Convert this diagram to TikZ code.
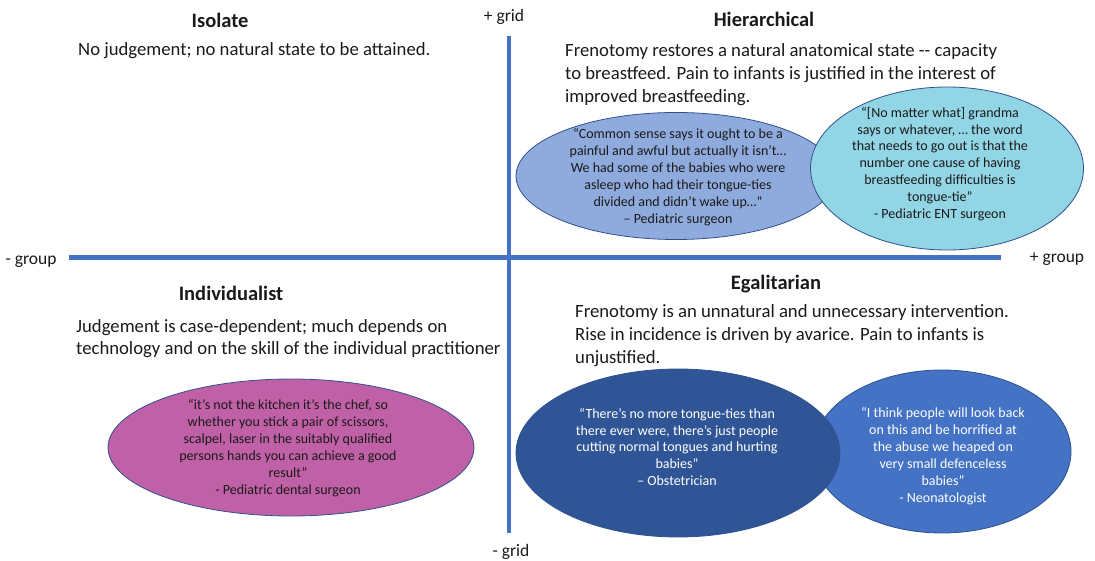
\documentclass[tikz,border=0pt]{standalone}
\usepackage{fontspec}
\setmainfont{Carlito}
\usetikzlibrary{shapes.geometric}
\definecolor{axisblue}{HTML}{4472C4}
\definecolor{ovalborder}{HTML}{2F528F}
\definecolor{surgfill}{HTML}{8FAADC}
\definecolor{entfill}{HTML}{92D5E5}
\definecolor{pinkfill}{HTML}{C060A6}
\definecolor{obstfill}{HTML}{2F5597}
\definecolor{neofill}{HTML}{4472C4}
\definecolor{txt}{HTML}{1A1A1A}
\tikzset{
  quote/.style={font=\fontsize{14}{16.9}\selectfont, align=center, inner sep=0, text=txt},
  bodytext/.style={font=\fontsize{18.7}{23}\selectfont, align=left, inner sep=0, anchor=base west, text=txt},
  headtext/.style={font=\bfseries\fontsize{20.5}{24}\selectfont, inner sep=0, anchor=base, text=txt},
  axislabel/.style={font=\fontsize{17.5}{20}\selectfont, inner sep=0, anchor=base, text=txt},
  oval/.style={ellipse, draw=ovalborder, line width=0.8pt, inner sep=0},
  axisline/.style={draw=axisblue, line width=4.5pt}
}
\begin{document}
\begin{tikzpicture}[x=1pt,y=-1pt]
\useasboundingbox (0,0) rectangle (1095,561);

% axes
\coordinate (vtop) at (509,36);
\coordinate (vbot) at (509,533);
\coordinate (hleft) at (69,257.5);
\coordinate (hright) at (1001,257.5);
\draw[axisline] (vtop) -- (vbot);
\draw[axisline] (hleft) -- (hright);

\node[axislabel] (pgrid) at (504,22) {+ grid};
\node[axislabel] (mgrid) at (511,556) {- grid};
\node[axislabel] (mgroup) at (31,265) {- group};
\node[axislabel] (pgroup) at (1057,263) {+ group};

% headings
\node[headtext] (isolate) at (220,28) {Isolate};
\node[headtext] (hier) at (764,27) {Hierarchical};
\node[headtext] (indiv) at (231,301) {Individualist};
\node[headtext] (egal) at (776,290) {Egalitarian};

% body texts (base anchor = baseline of the last line)
\node[bodytext] (isobody) at (78,56) {No judgement; no natural state to be attained.};
\node[bodytext] (hierbody) at (565,103) {Frenotomy restores a natural anatomical state -{}- capacity\\to breastfeed. Pain to infants is justified in the interest of\\improved breastfeeding.};
\node[bodytext] (indivbody) at (76,355) {Judgement is case-dependent; much depends on\\technology and on the skill of the individual practitioner};
\node[bodytext] (egalbody) at (575,363) {Frenotomy is an unnatural and unnecessary intervention.\\Rise in incidence is driven by avarice. Pain to infants is\\unjustified.};

% top-right ovals
\node[oval, fill=surgfill, minimum width=320, minimum height=127] (surg) at (676,176) {};
\node[quote] (surgtext) at (678,177) {“Common sense says it ought to be a\\painful and awful but actually it isn’t…\\We had some of the babies who were\\asleep who had their tongue-ties\\divided and didn't wake up…”\\– Pediatric surgeon};
\node[oval, fill=entfill, minimum width=273, minimum height=163] (ent) at (947,168.5) {};
\node[quote] (enttext) at (940,164) {“[No matter what] grandma\\says or whatever, … the word\\that needs to go out is that the\\number one cause of having\\breastfeeding difficulties is\\tongue-tie”\\- Pediatric ENT surgeon};

% bottom-left oval
\node[oval, fill=pinkfill, minimum width=366, minimum height=137] (pink) at (291,447.5) {};
\node[quote] (pinktext) at (288,448) {“it’s not the kitchen it’s the chef, so\\whether you stick a pair of scissors,\\scalpel, laser in the suitably qualified\\persons hands you can achieve a good\\result”\\- Pediatric dental surgeon};

% bottom-right ovals
\node[oval, fill=neofill, minimum width=258, minimum height=163] (neo) at (942,451.5) {};
\node[quote, text=white] (neotext) at (943,456) {“I think people will look back\\on this and be horrified at\\the abuse we heaped on\\very small defenceless\\babies”\\- Neonatologist};
\node[oval, fill=obstfill, minimum width=324, minimum height=168] (obst) at (678,453) {};
\node[quote, text=white] (obsttext) at (677,447) {“There's no more tongue-ties than\\there ever were, there's just people\\cutting normal tongues and hurting\\babies”\\– Obstetrician};
\end{tikzpicture}
\end{document}
